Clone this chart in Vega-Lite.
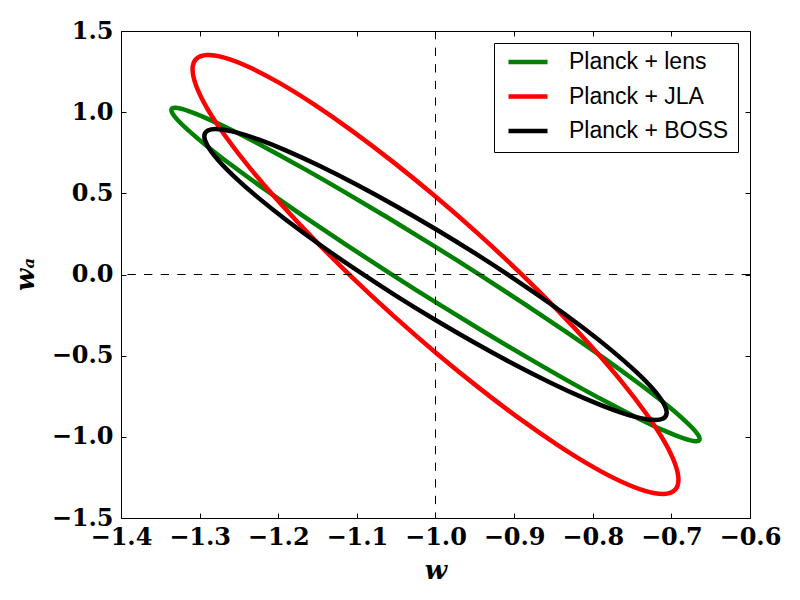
{
  "$schema": "https://vega.github.io/schema/vega-lite/v6.json",
  "width": 629,
  "height": 487,
  "autosize": "none",
  "padding": {"left": 121, "top": 31, "right": 50, "bottom": 82},
  "background": "white",
  "config": {
    "view": {"stroke": "black", "strokeWidth": 1},
    "axis": {
      "domain": false,
      "grid": false,
      "tickSize": -5,
      "tickColor": "black",
      "tickWidth": 1,
      "labelFont": "DejaVu Serif",
      "labelFontWeight": "bold",
      "labelFontSize": 24,
      "labelColor": "black",
      "labelFlush": false,
      "labelOverlap": false,
      "labelBound": false,
      "format": ".1f",
      "titleFont": "DejaVu Serif",
      "titleFontStyle": "italic",
      "titleFontWeight": "bold",
      "titleFontSize": 26,
      "titleColor": "black"
    },
    "legend": {
      "orient": "top-right",
      "offset": 12,
      "symbolType": "stroke",
      "symbolSize": 1521,
      "symbolStrokeWidth": 4.5,
      "symbolOffset": 3,
      "labelFont": "Liberation Sans",
      "labelFontSize": 23,
      "labelColor": "black",
      "labelOffset": 19,
      "labelLimit": 0,
      "clipHeight": 20,
      "padding": 9,
      "rowPadding": 11.5,
      "strokeColor": "black",
      "fillColor": "white"
    }
  },
  "layer": [
    {
      "data": {
        "values": [
          {"s": "Planck + lens", "i": 0, "w": -0.664, "wa": -1.0128},
          {"s": "Planck + lens", "i": 1, "w": -0.6691, "wa": -0.9679},
          {"s": "Planck + lens", "i": 2, "w": -0.6843, "wa": -0.8936},
          {"s": "Planck + lens", "i": 3, "w": -0.709, "wa": -0.7921},
          {"s": "Planck + lens", "i": 4, "w": -0.7426, "wa": -0.6666},
          {"s": "Planck + lens", "i": 5, "w": -0.784, "wa": -0.5208},
          {"s": "Planck + lens", "i": 6, "w": -0.832, "wa": -0.3592},
          {"s": "Planck + lens", "i": 7, "w": -0.8851, "wa": -0.1867},
          {"s": "Planck + lens", "i": 8, "w": -0.9417, "wa": -0.0085},
          {"s": "Planck + lens", "i": 9, "w": -1.0, "wa": 0.17},
          {"s": "Planck + lens", "i": 10, "w": -1.0583, "wa": 0.3433},
          {"s": "Planck + lens", "i": 11, "w": -1.1149, "wa": 0.5062},
          {"s": "Planck + lens", "i": 12, "w": -1.168, "wa": 0.6536},
          {"s": "Planck + lens", "i": 13, "w": -1.216, "wa": 0.7813},
          {"s": "Planck + lens", "i": 14, "w": -1.2574, "wa": 0.8851},
          {"s": "Planck + lens", "i": 15, "w": -1.291, "wa": 0.9621},
          {"s": "Planck + lens", "i": 16, "w": -1.3157, "wa": 1.0099},
          {"s": "Planck + lens", "i": 17, "w": -1.3309, "wa": 1.0269},
          {"s": "Planck + lens", "i": 18, "w": -1.336, "wa": 1.0128},
          {"s": "Planck + lens", "i": 19, "w": -1.3309, "wa": 0.9679},
          {"s": "Planck + lens", "i": 20, "w": -1.3157, "wa": 0.8936},
          {"s": "Planck + lens", "i": 21, "w": -1.291, "wa": 0.7921},
          {"s": "Planck + lens", "i": 22, "w": -1.2574, "wa": 0.6666},
          {"s": "Planck + lens", "i": 23, "w": -1.216, "wa": 0.5208},
          {"s": "Planck + lens", "i": 24, "w": -1.168, "wa": 0.3592},
          {"s": "Planck + lens", "i": 25, "w": -1.1149, "wa": 0.1867},
          {"s": "Planck + lens", "i": 26, "w": -1.0583, "wa": 0.0085},
          {"s": "Planck + lens", "i": 27, "w": -1.0, "wa": -0.17},
          {"s": "Planck + lens", "i": 28, "w": -0.9417, "wa": -0.3433},
          {"s": "Planck + lens", "i": 29, "w": -0.8851, "wa": -0.5062},
          {"s": "Planck + lens", "i": 30, "w": -0.832, "wa": -0.6536},
          {"s": "Planck + lens", "i": 31, "w": -0.784, "wa": -0.7813},
          {"s": "Planck + lens", "i": 32, "w": -0.7426, "wa": -0.8851},
          {"s": "Planck + lens", "i": 33, "w": -0.709, "wa": -0.9621},
          {"s": "Planck + lens", "i": 34, "w": -0.6843, "wa": -1.0099},
          {"s": "Planck + lens", "i": 35, "w": -0.6691, "wa": -1.0269},
          {"s": "Planck + JLA", "i": 0, "w": -0.691, "wa": -1.264},
          {"s": "Planck + JLA", "i": 1, "w": -0.6957, "wa": -1.1615},
          {"s": "Planck + JLA", "i": 2, "w": -0.7096, "wa": -1.0236},
          {"s": "Planck + JLA", "i": 3, "w": -0.7324, "wa": -0.8547},
          {"s": "Planck + JLA", "i": 4, "w": -0.7633, "wa": -0.6597},
          {"s": "Planck + JLA", "i": 5, "w": -0.8014, "wa": -0.4448},
          {"s": "Planck + JLA", "i": 6, "w": -0.8455, "wa": -0.2163},
          {"s": "Planck + JLA", "i": 7, "w": -0.8943, "wa": 0.0187},
          {"s": "Planck + JLA", "i": 8, "w": -0.9463, "wa": 0.2532},
          {"s": "Planck + JLA", "i": 9, "w": -1.0, "wa": 0.48},
          {"s": "Planck + JLA", "i": 10, "w": -1.0537, "wa": 0.6922},
          {"s": "Planck + JLA", "i": 11, "w": -1.1057, "wa": 0.8834},
          {"s": "Planck + JLA", "i": 12, "w": -1.1545, "wa": 1.0477},
          {"s": "Planck + JLA", "i": 13, "w": -1.1986, "wa": 1.1802},
          {"s": "Planck + JLA", "i": 14, "w": -1.2367, "wa": 1.2768},
          {"s": "Planck + JLA", "i": 15, "w": -1.2676, "wa": 1.3347},
          {"s": "Planck + JLA", "i": 16, "w": -1.2904, "wa": 1.3519},
          {"s": "Planck + JLA", "i": 17, "w": -1.3043, "wa": 1.3282},
          {"s": "Planck + JLA", "i": 18, "w": -1.309, "wa": 1.264},
          {"s": "Planck + JLA", "i": 19, "w": -1.3043, "wa": 1.1615},
          {"s": "Planck + JLA", "i": 20, "w": -1.2904, "wa": 1.0236},
          {"s": "Planck + JLA", "i": 21, "w": -1.2676, "wa": 0.8547},
          {"s": "Planck + JLA", "i": 22, "w": -1.2367, "wa": 0.6597},
          {"s": "Planck + JLA", "i": 23, "w": -1.1986, "wa": 0.4448},
          {"s": "Planck + JLA", "i": 24, "w": -1.1545, "wa": 0.2163},
          {"s": "Planck + JLA", "i": 25, "w": -1.1057, "wa": -0.0187},
          {"s": "Planck + JLA", "i": 26, "w": -1.0537, "wa": -0.2532},
          {"s": "Planck + JLA", "i": 27, "w": -1.0, "wa": -0.48},
          {"s": "Planck + JLA", "i": 28, "w": -0.9463, "wa": -0.6922},
          {"s": "Planck + JLA", "i": 29, "w": -0.8943, "wa": -0.8834},
          {"s": "Planck + JLA", "i": 30, "w": -0.8455, "wa": -1.0477},
          {"s": "Planck + JLA", "i": 31, "w": -0.8014, "wa": -1.1802},
          {"s": "Planck + JLA", "i": 32, "w": -0.7633, "wa": -1.2768},
          {"s": "Planck + JLA", "i": 33, "w": -0.7324, "wa": -1.3347},
          {"s": "Planck + JLA", "i": 34, "w": -0.7096, "wa": -1.3519},
          {"s": "Planck + JLA", "i": 35, "w": -0.6957, "wa": -1.3282},
          {"s": "Planck + BOSS", "i": 0, "w": -0.706, "wa": -0.8511},
          {"s": "Planck + BOSS", "i": 1, "w": -0.7105, "wa": -0.7896},
          {"s": "Planck + BOSS", "i": 2, "w": -0.7237, "wa": -0.704},
          {"s": "Planck + BOSS", "i": 3, "w": -0.7454, "wa": -0.5971},
          {"s": "Planck + BOSS", "i": 4, "w": -0.7748, "wa": -0.472},
          {"s": "Planck + BOSS", "i": 5, "w": -0.811, "wa": -0.3326},
          {"s": "Planck + BOSS", "i": 6, "w": -0.853, "wa": -0.1831},
          {"s": "Planck + BOSS", "i": 7, "w": -0.8995, "wa": -0.028},
          {"s": "Planck + BOSS", "i": 8, "w": -0.949, "wa": 0.128},
          {"s": "Planck + BOSS", "i": 9, "w": -1.0, "wa": 0.28},
          {"s": "Planck + BOSS", "i": 10, "w": -1.0511, "wa": 0.4235},
          {"s": "Planck + BOSS", "i": 11, "w": -1.1006, "wa": 0.5542},
          {"s": "Planck + BOSS", "i": 12, "w": -1.147, "wa": 0.668},
          {"s": "Planck + BOSS", "i": 13, "w": -1.189, "wa": 0.7616},
          {"s": "Planck + BOSS", "i": 14, "w": -1.2252, "wa": 0.832},
          {"s": "Planck + BOSS", "i": 15, "w": -1.2546, "wa": 0.8771},
          {"s": "Planck + BOSS", "i": 16, "w": -1.2763, "wa": 0.8955},
          {"s": "Planck + BOSS", "i": 17, "w": -1.2895, "wa": 0.8868},
          {"s": "Planck + BOSS", "i": 18, "w": -1.294, "wa": 0.8511},
          {"s": "Planck + BOSS", "i": 19, "w": -1.2895, "wa": 0.7896},
          {"s": "Planck + BOSS", "i": 20, "w": -1.2763, "wa": 0.704},
          {"s": "Planck + BOSS", "i": 21, "w": -1.2546, "wa": 0.5971},
          {"s": "Planck + BOSS", "i": 22, "w": -1.2252, "wa": 0.472},
          {"s": "Planck + BOSS", "i": 23, "w": -1.189, "wa": 0.3326},
          {"s": "Planck + BOSS", "i": 24, "w": -1.147, "wa": 0.1831},
          {"s": "Planck + BOSS", "i": 25, "w": -1.1006, "wa": 0.028},
          {"s": "Planck + BOSS", "i": 26, "w": -1.0511, "wa": -0.128},
          {"s": "Planck + BOSS", "i": 27, "w": -1.0, "wa": -0.28},
          {"s": "Planck + BOSS", "i": 28, "w": -0.949, "wa": -0.4235},
          {"s": "Planck + BOSS", "i": 29, "w": -0.8995, "wa": -0.5542},
          {"s": "Planck + BOSS", "i": 30, "w": -0.853, "wa": -0.668},
          {"s": "Planck + BOSS", "i": 31, "w": -0.811, "wa": -0.7616},
          {"s": "Planck + BOSS", "i": 32, "w": -0.7748, "wa": -0.832},
          {"s": "Planck + BOSS", "i": 33, "w": -0.7454, "wa": -0.8771},
          {"s": "Planck + BOSS", "i": 34, "w": -0.7237, "wa": -0.8955},
          {"s": "Planck + BOSS", "i": 35, "w": -0.7105, "wa": -0.8868}
        ]
      },
      "mark": {"type": "line", "strokeWidth": 4.5, "interpolate": "cardinal-closed"},
      "encoding": {
        "x": {
          "field": "w",
          "type": "quantitative",
          "scale": {"domain": [-1.4, -0.6], "nice": false, "zero": false},
          "axis": {
            "orient": "bottom",
            "values": [-1.4, -1.3, -1.2, -1.1, -1.0, -0.9, -0.8, -0.7, -0.6],
            "labelPadding": 12,
            "title": "w",
            "titleX": 314.5,
            "titleY": 60,
            "titleAlign": "center",
            "titleBaseline": "alphabetic"
          }
        },
        "y": {
          "field": "wa",
          "type": "quantitative",
          "scale": {"domain": [-1.5, 1.5], "nice": false, "zero": false},
          "axis": {
            "orient": "left",
            "values": [-1.5, -1.0, -0.5, 0.0, 0.5, 1.0, 1.5],
            "labelPadding": 13,
            "title": "wₐ",
            "titleX": -88,
            "titleY": 243,
            "titleAngle": -90,
            "titleAlign": "center",
            "titleBaseline": "alphabetic"
          }
        },
        "color": {
          "field": "s",
          "type": "nominal",
          "title": null,
          "scale": {
            "domain": ["Planck + lens", "Planck + JLA", "Planck + BOSS"],
            "range": ["#008000", "#ff0000", "#000000"]
          }
        },
        "order": {"field": "i", "type": "quantitative"}
      }
    },
    {
      "data": {"values": [{"w": -1.0}]},
      "mark": {"type": "rule", "color": "black", "strokeWidth": 1, "strokeDash": [8.3, 8.3]},
      "encoding": {
        "x": {
          "field": "w",
          "type": "quantitative",
          "axis": {
            "orient": "top",
            "values": [-1.4, -1.3, -1.2, -1.1, -1.0, -0.9, -0.8, -0.7, -0.6],
            "labels": false,
            "title": null
          }
        }
      }
    },
    {
      "data": {"values": [{"wa": 0.0}]},
      "mark": {"type": "rule", "color": "black", "strokeWidth": 1, "strokeDash": [8.3, 8.3]},
      "encoding": {
        "y": {
          "field": "wa",
          "type": "quantitative",
          "axis": {
            "orient": "right",
            "values": [-1.5, -1.0, -0.5, 0.0, 0.5, 1.0, 1.5],
            "labels": false,
            "title": null
          }
        }
      }
    }
  ],
  "resolve": {"axis": {"x": "independent", "y": "independent"}}
}
